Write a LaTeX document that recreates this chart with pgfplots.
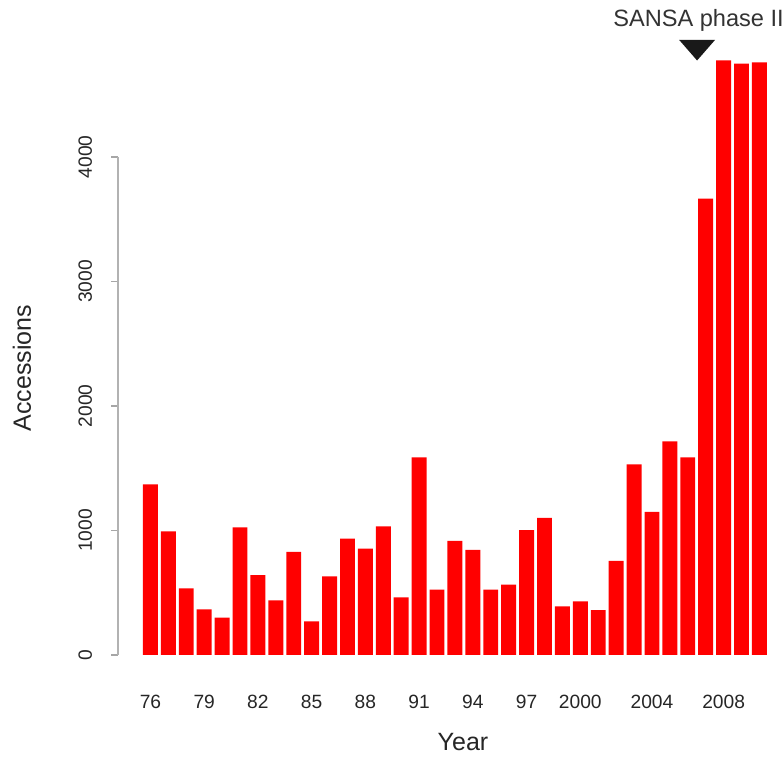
\documentclass[border=0pt]{standalone}
\usepackage{pgfplots}
\pgfplotsset{compat=1.18}
\usepackage{fontspec}
\setmainfont{Liberation Sans}
\begin{document}
\begin{tikzpicture}
\begin{axis}[
  scale only axis, width=332pt, height=327.5pt,
  xmin=1974.19, xmax=2011.26, ymin=0, ymax=5261,
  axis x line*=bottom, axis y line*=left,
  axis line style={draw=none},
  clip=false,
  xtick={1976,1979,1982,1985,1988,1991,1994,1997,2000,2004,2008},
  xticklabels={76,79,82,85,88,91,94,97,2000,2004,2008},
  x tick style={draw=none},
  ytick={0,1000,2000,3000,4000},
  y tick style={draw=black!35, line width=0.6pt},
  tick align=outside, major tick length=3.5pt,
  /pgf/number format/assume math mode=true,
  /pgf/number format/1000 sep={},
  ticklabel style={font=\fontsize{9.6}{11}\selectfont, text=black!85},
  yticklabel style={rotate=90, anchor=south, yshift=6pt},
  xticklabel style={anchor=north, yshift=-13pt},
]
\addplot[ybar, bar width=0.833, fill=red, draw=none] coordinates {
(1976,1371) (1977,992) (1978,535) (1979,366) (1980,299)
(1981,1024) (1982,641) (1983,438) (1984,828) (1985,270)
(1986,631) (1987,935) (1988,855) (1989,1032) (1990,462)
(1991,1587) (1992,524) (1993,916) (1994,844) (1995,524)
(1996,564) (1997,1002) (1998,1101) (1999,390) (2000,430)
(2001,361) (2002,756) (2003,1531) (2004,1149) (2005,1715)
(2006,1587) (2007,3665) (2008,4775) (2009,4750) (2010,4760)
};
\addplot[fill=black!90, draw=none, sharp plot] coordinates {
(2005.52,4940) (2007.52,4940) (2006.52,4775)} -- cycle;
\draw[black!30, line width=0.6pt] (axis cs:1974.19,0) -- (axis cs:1974.19,4000);
\node[rotate=90, font=\fontsize{12.5}{15}\selectfont, text=black!85] at (axis cs:1968.83,2305) {Accessions};
\node[font=\fontsize{12.5}{15}\selectfont, text=black!85] at (axis cs:1993.45,-699) {Year};
\node[anchor=base, font=\fontsize{11.8}{14}\selectfont, text=black!80] at (axis cs:2006.60,5052) {SANSA phase II};
\coordinate (bl) at (axis cs:1967.60,-819);
\coordinate (tr) at (axis cs:2011.26,5261);
\end{axis}
\pgfresetboundingbox
\path[use as bounding box] (bl) rectangle (tr);
\end{tikzpicture}
\end{document}
